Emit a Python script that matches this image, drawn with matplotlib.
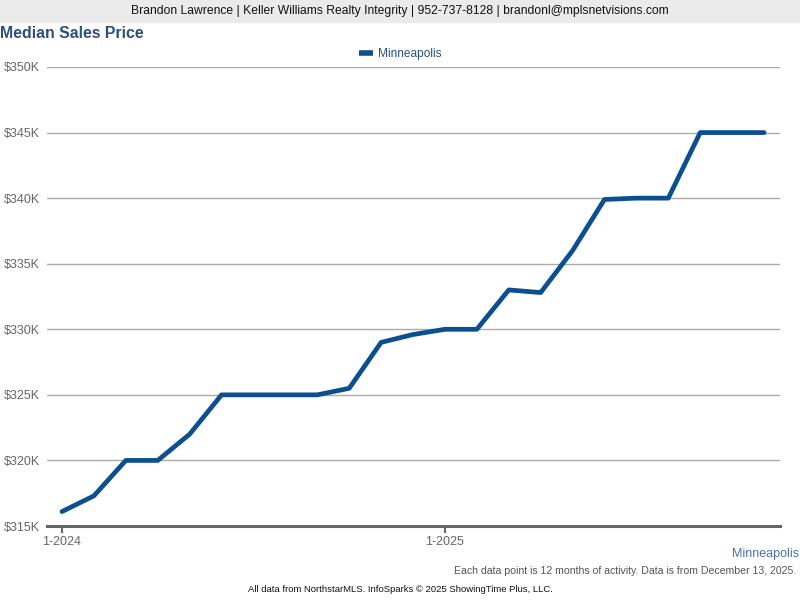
import matplotlib
matplotlib.use("Agg")
import matplotlib.pyplot as plt
from matplotlib.ticker import FuncFormatter

plt.rcParams['font.family'] = ['Liberation Sans', 'DejaVu Sans']

# monthly points, Jan 2024 .. Nov 2025 (12-month rolling median, $K)
months = list(range(23))
median_price = [316.1, 317.3, 320.0, 320.0, 322.0, 325.0, 325.0, 325.0, 325.0, 325.5,
                329.0, 329.6, 330.0, 330.0, 333.0, 332.8, 336.0, 339.9, 340.0, 340.0,
                345.0, 345.0, 345.0]
tick_pos = [0, 12]
tick_labels = ['1-2024', '1-2025']
y_ticks = [315, 320, 325, 330, 335, 340, 345, 350]

line_col = '#0b4f8f'

fig = plt.figure(figsize=(8, 6), dpi=100)
ax = fig.add_axes([47/800, 1-526/600, (780-47)/800, (526-67)/600])

ax.plot(months, median_price, color=line_col, lw=3.4, solid_capstyle='round',
        solid_joinstyle='round', label='Minneapolis', zorder=3)

ax.set_xlim(-0.47, 22.5)
ax.set_ylim(315, 350)
ax.set_yticks(y_ticks)
ax.yaxis.set_major_formatter(FuncFormatter(lambda v, p: '$%dK' % v))
ax.set_xticks(tick_pos)
ax.set_xticklabels(tick_labels)

ax.grid(axis='y', color='#aaaaaa', lw=1)
ax.set_axisbelow(True)
for s in ['top', 'right', 'left']:
    ax.spines[s].set_visible(False)
ax.spines['bottom'].set_color('#666666')
ax.spines['bottom'].set_linewidth(2.2)
ax.tick_params(axis='y', length=0, labelsize=9, labelcolor='#666666', pad=5)
ax.tick_params(axis='x', length=5, width=1.5, color='#666666', labelsize=9,
               labelcolor='#666666', pad=2)

# header band
fig.patches.append(plt.Rectangle((0, 1-22/600), 1, 22/600, transform=fig.transFigure,
                                 color='#ebebeb', zorder=0))
fig.text(0.5, 1-11/600, 'Brandon Lawrence | Keller Williams Realty Integrity | 952-737-8128 | brandonl@mplsnetvisions.com',
         ha='center', va='center', fontsize=8.75, color='#111111')
fig.text(0, 1-34/600, 'Median Sales Price', ha='left', va='center',
         fontsize=11.4, fontweight='bold', color='#2b4f7e')

leg = fig.legend(loc='center', bbox_to_anchor=(0.5, 1-54/600), frameon=False,
                 handlelength=1.2, handletextpad=0.4, fontsize=8.6, borderaxespad=0)
for t in leg.get_texts():
    t.set_color('#2b4f7e')
for h in leg.get_lines():
    h.set_linewidth(4)
    h.set_solid_capstyle('butt')

fig.text(799/800, 1-554/600, 'Minneapolis', ha='right', va='center', fontsize=9, color='#4a72a8')
fig.text(796/800, 1-571/600, 'Each data point is 12 months of activity. Data is from December 13, 2025.',
         ha='right', va='center', fontsize=7.6, color='#555555')
fig.text(0.5, 1-590/600, 'All data from NorthstarMLS. InfoSparks \u00a9 2025 ShowingTime Plus, LLC.',
         ha='center', va='center', fontsize=6.8, color='#111111')

fig.savefig('out.png', dpi=100)
